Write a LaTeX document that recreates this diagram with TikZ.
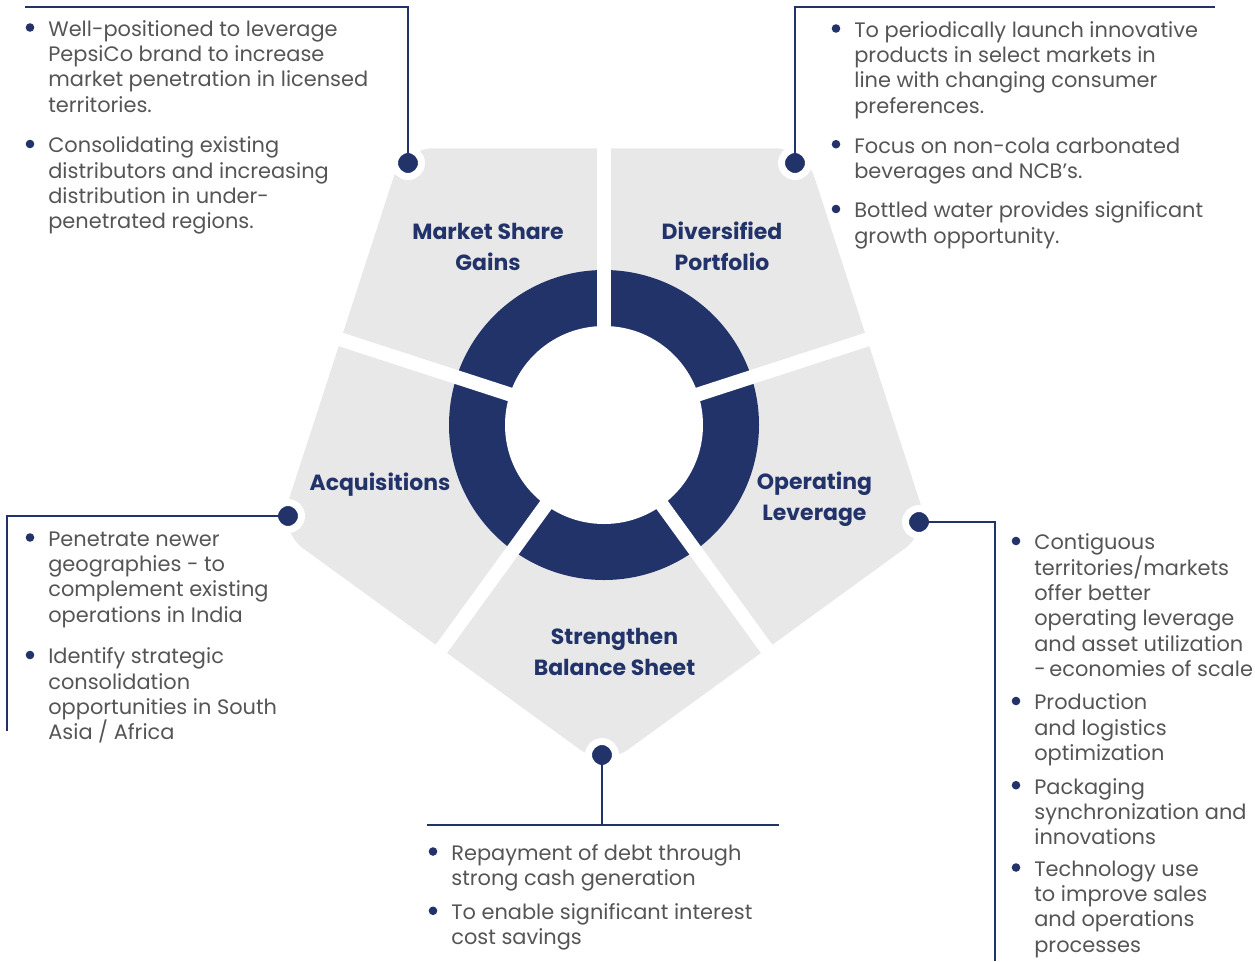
\documentclass[tikz,border=0pt]{standalone}
\usepackage{fontspec}
\setmainfont{Poppins}
\usetikzlibrary{positioning}
\definecolor{navy}{HTML}{22336A}
\definecolor{panel}{HTML}{E8E8E8}
\definecolor{bodytext}{HTML}{555555}
\newcommand\bodyfont{\fontsize{11.9}{14.4}\selectfont\lineskiplimit=-20pt\relax\lineskip=0pt\relax}
\newcommand\lblfont{\fontsize{12.5}{18}\selectfont\bfseries\lineskiplimit=-20pt\relax\lineskip=0pt\relax}
\tikzset{link/.style={draw=navy, line width=0.03cm}, gap/.style={draw=white, line width=0.28cm}, dot/.style={circle, fill=navy, draw=white, line width=0.14cm, minimum size=0.54cm, inner sep=0pt}, txt/.style={anchor=north west, inner sep=0pt, align=left, text=bodytext, font=\bodyfont}, lbl/.style={anchor=north, inner sep=0pt, align=center, text=navy, font=\lblfont}}

\begin{document}
\begin{tikzpicture}[x=0.02cm, y=-0.02cm]
\useasboundingbox (0,0) rectangle (1255,961);
\begin{scope}[shift={(604,425)}]
\fill[panel, rounded corners=0.6cm] (54:276.7) -- (90:342) -- (162:342) -- (234:342) -- (306:342) -- (18:342) -- cycle;
\fill[navy] (0,0) circle (155); \fill[white] (0,0) circle (99);
\foreach \a in {54,126,198,270,342} \draw[gap] (0,0) -- (\a:350);
\end{scope}
% pentagon labels
\node[lbl] (lms) at (488,216.8) {\strut Market Share\\Gains};
\node[lbl] (ldp) at (722,216.8) {\strut Diversified\\Portfolio};
\node[lbl] (lac) at (380,467.8) {\strut Acquisitions};
\node[lbl] (lol) at (814.5,466.8) {\strut Operating\\Leverage};
\node[lbl] (lsb) at (614.5,621.8) {\strut Strengthen\\Balance Sheet};
% callout dots and leaders
\node[dot] (dtl) at (408,163) {}; \node[dot] (dtr) at (795,163) {};
\node[dot] (dl) at (288,516) {}; \node[dot] (dr) at (919,522) {};
\node[dot] (db) at (602,755) {};
\coordinate (etl) at (25,7); \coordinate (etr) at (1215,7);
\coordinate (el) at (7,731); \coordinate (er) at (995,961);
\coordinate (eb) at (602,825); \coordinate (ebl) at (427,825); \coordinate (ebr) at (779,825);
\draw[link] (dtl.center) |- (etl); \draw[link] (dtr.center) |- (etr);
\draw[link] (dl.center) -| (el); \draw[link] (dr.center) -| (er);
\draw[link] (db.center) -- (eb); \draw[link] (ebl) -- (ebr);
% bullet texts
\node[txt] (tl1) at (48,18.3) {\strut Well-positioned to leverage\\PepsiCo brand to increase\\market penetration in licensed\\territories.};
\node[txt] (tl2) at (48,134.8) {\strut Consolidating existing\\distributors and increasing\\distribution in under-\\penetrated regions.};
\node[txt] (tr1) at (854,19.3) {\strut To periodically launch innovative\\products in select markets in\\line with changing consumer\\preferences.};
\node[txt] (tr2) at (854,135) {\strut Focus on non-cola carbonated\\beverages and NCB’s.};
\node[txt] (tr3) at (854,199.8) {\strut Bottled water provides significant\\growth opportunity.};
\node[txt] (l1) at (48,528.3) {\strut Penetrate newer\\geographies - to\\complement existing\\operations in India};
\node[txt] (l2) at (48,645.8) {\strut Identify strategic\\consolidation\\opportunities in South\\Asia / Africa};
\node[txt] (r1) at (1034,531.8) {\strut Contiguous\\territories/markets\\offer better\\operating leverage\\and asset utilization\\{-}\,economies of scale};
\node[txt] (r2) at (1034,691.8) {\strut Production\\and logistics\\optimization};
\node[txt] (r3) at (1034,776) {\strut Packaging\\synchronization and\\innovations};
\node[txt] (r4) at (1034,858.3) {\strut Technology use\\to improve sales\\and operations\\processes};
\node[txt] (b1) at (451,842.3) {\strut Repayment of debt through\\strong cash generation};
\node[txt] (b2) at (451,901.6) {\strut To enable significant interest\\cost savings};
\foreach \n in {tl1,tl2,tr1,tr2,tr3,l1,l2,r1,r2,r3,r4,b1,b2} \fill[navy] ([shift={(-18,9.2)}]\n.north west) circle (4.3);
\end{tikzpicture}
\end{document}
